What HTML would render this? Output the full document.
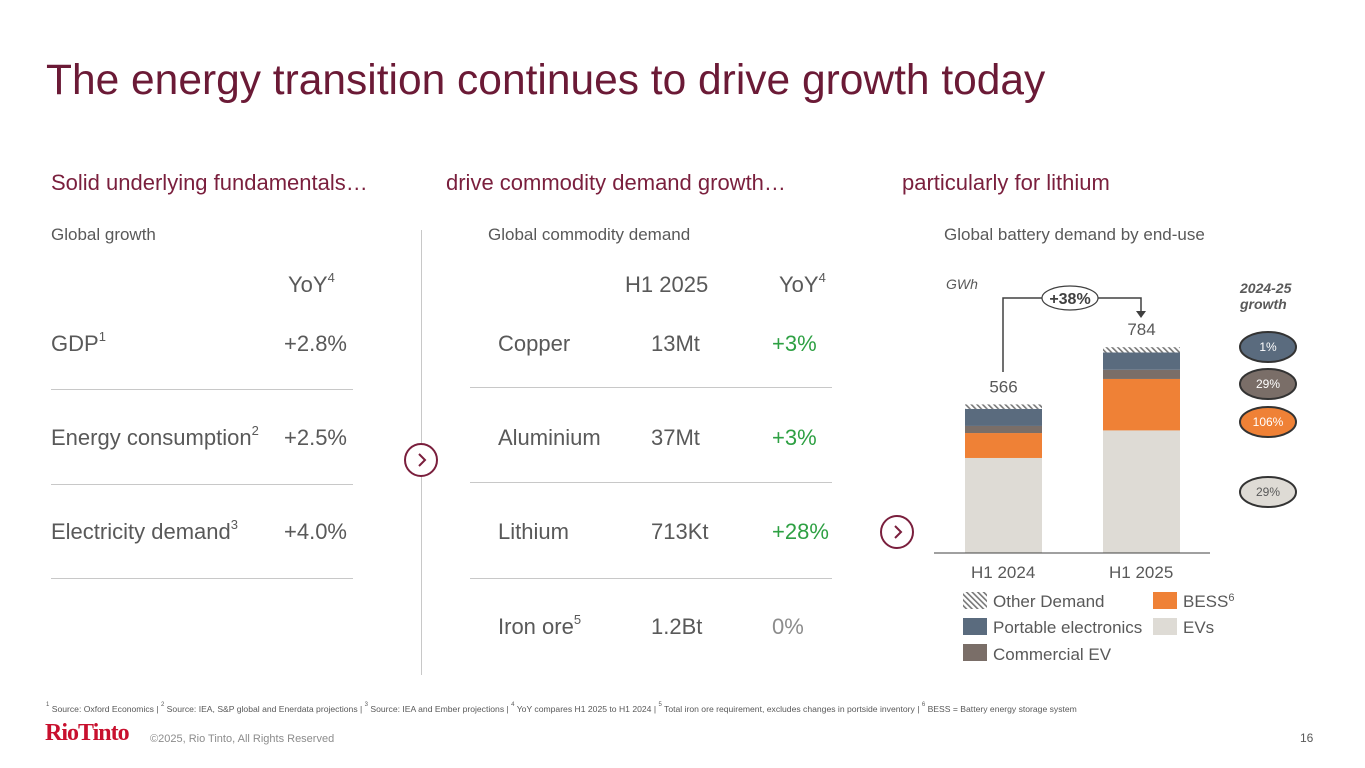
<!DOCTYPE html>
<html><head><meta charset="utf-8">
<style>
body{margin:0;width:1365px;height:768px;background:#fff;position:relative;overflow:hidden;font-family:"Liberation Sans",Arial,sans-serif;color:#595959}
.a{position:absolute;white-space:nowrap}
.t{font-size:42.5px;color:#6b1a36;left:46px;top:57px}
.h{font-size:22px;color:#7a1f3d;top:170px}
.s{font-size:17px;color:#595959;top:225px}
.r{font-size:22px;color:#595959}
.g{color:#2ea043}
.ln{position:absolute;height:1px;background:#c8c8c8}
sup{font-size:13px;vertical-align:top;position:relative;top:-2px}
.chev{position:absolute;width:34px;height:34px;border:2px solid #7a1f3d;border-radius:50%;box-sizing:border-box;background:#fff}
</style></head><body>
<div class="a t">The energy transition continues to drive growth today</div>

<div class="a h" style="left:51px">Solid underlying fundamentals…</div>
<div class="a h" style="left:446px">drive commodity demand growth…</div>
<div class="a h" style="left:902px">particularly for lithium</div>

<div class="a s" style="left:51px">Global growth</div>
<div class="a s" style="left:488px">Global commodity demand</div>
<div class="a s" style="left:944px">Global battery demand by end-use</div>

<!-- left table -->
<div class="a r" style="left:288px;top:272px">YoY<sup>4</sup></div>
<div class="a r" style="left:51px;top:331px">GDP<sup>1</sup></div>
<div class="a r" style="left:284px;top:331px">+2.8%</div>
<div class="ln" style="left:51px;width:302px;top:389px"></div>
<div class="a r" style="left:51px;top:425px">Energy consumption<sup>2</sup></div>
<div class="a r" style="left:284px;top:425px">+2.5%</div>
<div class="ln" style="left:51px;width:302px;top:484px"></div>
<div class="a r" style="left:51px;top:519px">Electricity demand<sup>3</sup></div>
<div class="a r" style="left:284px;top:519px">+4.0%</div>
<div class="ln" style="left:51px;width:302px;top:578px"></div>

<div class="ln" style="left:421px;width:1px;top:230px;height:445px"></div>
<div class="chev" style="left:404px;top:443px"><svg width="30" height="30"><path d="M13 9 L19 15 L13 21" stroke="#7a1f3d" stroke-width="2" fill="none"/></svg></div>

<!-- middle table -->
<div class="a r" style="left:625px;top:272px">H1 2025</div>
<div class="a r" style="left:779px;top:272px">YoY<sup>4</sup></div>
<div class="a r" style="left:498px;top:331px">Copper</div>
<div class="a r" style="left:651px;top:331px">13Mt</div>
<div class="a r g" style="left:772px;top:331px">+3%</div>
<div class="ln" style="left:470px;width:362px;top:387px"></div>
<div class="a r" style="left:498px;top:425px">Aluminium</div>
<div class="a r" style="left:651px;top:425px">37Mt</div>
<div class="a r g" style="left:772px;top:425px">+3%</div>
<div class="ln" style="left:470px;width:362px;top:482px"></div>
<div class="a r" style="left:498px;top:519px">Lithium</div>
<div class="a r" style="left:651px;top:519px">713Kt</div>
<div class="a r g" style="left:772px;top:519px">+28%</div>
<div class="ln" style="left:470px;width:362px;top:578px"></div>
<div class="a r" style="left:498px;top:614px">Iron ore<sup>5</sup></div>
<div class="a r" style="left:651px;top:614px">1.2Bt</div>
<div class="a r" style="left:772px;top:614px;color:#8c8c8c">0%</div>

<div class="chev" style="left:880px;top:515px"><svg width="30" height="30"><path d="M13 9 L19 15 L13 21" stroke="#7a1f3d" stroke-width="2" fill="none"/></svg></div>

<!-- chart -->
<svg id="chart" class="a" style="left:0;top:0" width="1365" height="768">
<defs><pattern id="hatch" width="4" height="4" patternUnits="userSpaceOnUse" patternTransform="rotate(-45)"><rect width="4" height="4" fill="#fff"/><rect width="1.6" height="4" fill="#777"/></pattern></defs>
<g id="bars"></g>
<line x1="934" y1="553" x2="1210" y2="553" stroke="#404040" stroke-width="1"/>
<text x="946" y="289" font-size="14" font-style="italic" fill="#595959">GWh</text>
<text x="1240" y="293" font-size="14" font-weight="bold" font-style="italic" fill="#595959">2024-25</text>
<text x="1240" y="309" font-size="14" font-weight="bold" font-style="italic" fill="#595959">growth</text>
<path d="M1003 372 V298 H1043 M1097 298 H1141 V312" stroke="#404040" stroke-width="1.5" fill="none"/>
<path d="M1136 311 L1146 311 L1141 318 Z" fill="#404040"/>
<ellipse cx="1070" cy="298" rx="28" ry="12" fill="#fff" stroke="#404040" stroke-width="1.2"/>
<text x="1070" y="304" font-size="16" font-weight="bold" text-anchor="middle" fill="#404040">+38%</text>
<g id="growth"></g>
<g font-size="17" fill="#595959">
<text x="971" y="578">H1 2024</text><text x="1109" y="578">H1 2025</text>
<rect x="963" y="592" width="24" height="17" fill="url(#hatch)"/><text x="993" y="607">Other Demand</text>
<rect x="963" y="618" width="24" height="17" fill="#5a6b7e"/><text x="993" y="633">Portable electronics</text>
<rect x="963" y="644" width="24" height="17" fill="#7a6e68"/><text x="993" y="660">Commercial EV</text>
<rect x="1153" y="592" width="24" height="17" fill="#ef8136"/><text x="1183" y="607">BESS<tspan font-size="11" dy="-6">6</tspan></text>
<rect x="1153" y="618" width="24" height="17" fill="#dedbd5"/><text x="1183" y="633">EVs</text>
</g>
</svg>

<div class="a" style="left:46px;top:704px;font-size:8.6px;color:#595959"><sup style="font-size:6px">1</sup> Source: Oxford Economics | <sup style="font-size:6px">2</sup> Source: IEA, S&amp;P global and Enerdata projections | <sup style="font-size:6px">3</sup> Source: IEA and Ember projections | <sup style="font-size:6px">4</sup> YoY compares H1 2025 to H1 2024 | <sup style="font-size:6px">5</sup> Total iron ore requirement, excludes changes in portside inventory | <sup style="font-size:6px">6</sup> BESS = Battery energy storage system</div>
<div class="a" style="left:45px;top:720px;font-family:'Liberation Serif',serif;font-size:24px;font-weight:bold;color:#c8102e;letter-spacing:-1px">RioTinto</div>
<div class="a" style="left:150px;top:733px;font-size:11px;color:#8c8c8c">©2025, Rio Tinto, All Rights Reserved</div>
<div class="a" style="left:1300px;top:731px;font-size:12px;color:#595959">16</div>

<script>
const categories = ["H1 2024", "H1 2025"];
const seriesNames = ["EVs", "BESS", "Commercial EV", "Portable electronics", "Other Demand"];
const evs = [362, 467];
const bess = [95, 196];
const commercialEv = [27, 35];
const portable = [65, 66];
const other = [17, 20];
const totals = [566, 784];
const growthLabels = ["1%", "29%", "106%", "29%"];

const NS = "http://www.w3.org/2000/svg";
const baseY = 553, scale = 0.2625, barW = 77;
const xPos = i => 965 + i * 138;
const yScale = v => baseY - v * scale;
const fills = ["#dedbd5", "#ef8136", "#7a6e68", "#5a6b7e", "url(#hatch)"];
const series = [evs, bess, commercialEv, portable, other];
const g = document.getElementById("bars");
categories.forEach((c, i) => {
  let cum = 0;
  series.forEach((s, k) => {
    const r = document.createElementNS(NS, "rect");
    r.setAttribute("x", xPos(i));
    r.setAttribute("y", yScale(cum + s[i]));
    r.setAttribute("width", barW);
    r.setAttribute("height", s[i] * scale);
    r.setAttribute("fill", fills[k]);
    
    
    g.appendChild(r);
    cum += s[i];
  });
  const t = document.createElementNS(NS, "text");
  t.setAttribute("x", xPos(i) + barW / 2);
  t.setAttribute("y", yScale(totals[i]) - 12);
  t.setAttribute("text-anchor", "middle");
  t.setAttribute("font-size", "17");
  t.setAttribute("fill", "#595959");
  t.textContent = totals[i];
  
  
  g.appendChild(t);
});
const gg = document.getElementById("growth");
const ecols = ["#5a6b7e", "#7a6e68", "#ef8136", "#dedbd5"];
const ey = [347, 384, 422, 492];
growthLabels.forEach((lab, i) => {
  const e = document.createElementNS(NS, "ellipse");
  e.setAttribute("cx", 1268); e.setAttribute("cy", ey[i]);
  e.setAttribute("rx", 28); e.setAttribute("ry", 15);
  e.setAttribute("fill", ecols[i]); e.setAttribute("stroke", "#333"); e.setAttribute("stroke-width", "2");
  
  
  gg.appendChild(e);
  const t = document.createElementNS(NS, "text");
  t.setAttribute("x", 1268); t.setAttribute("y", ey[i] + 4);
  t.setAttribute("text-anchor", "middle"); t.setAttribute("font-size", "12");
  t.setAttribute("fill", i === 3 ? "#595959" : "#fff");
  t.textContent = lab;
  
  
  gg.appendChild(t);
});
</script>
</body></html>
